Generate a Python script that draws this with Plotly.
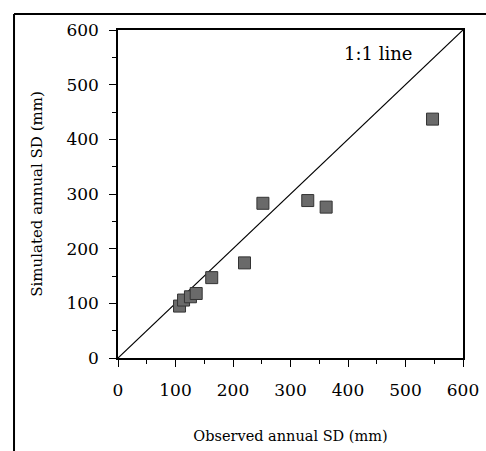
import plotly.graph_objects as go

observed = [107, 114, 126, 136, 163, 220, 252, 330, 362, 547]
simulated = [95, 106, 112, 118, 147, 174, 283, 288, 276, 437]
line_x = [0, 600]
line_y = [0, 600]
tick_vals = [0, 100, 200, 300, 400, 500, 600]
tick_text = ["0", "100", "200", "300", "400", "500", "600"]

FONT = "DejaVu Serif"

fig = go.Figure()
fig.add_trace(go.Scatter(x=line_x, y=line_y, mode="lines",
                         line=dict(color="black", width=1.2), showlegend=False))
fig.add_trace(go.Scatter(x=observed, y=simulated, mode="markers",
                         marker=dict(symbol="square", size=12, color="#6a6a6a",
                                     line=dict(color="#333333", width=1)),
                         showlegend=False))

axis_common = dict(range=[0, 600], tickvals=tick_vals, ticktext=tick_text,
                   showgrid=False, zeroline=False, showline=True, linecolor="black",
                   linewidth=1.5, mirror=True, ticks="outside", ticklen=7,
                   tickcolor="black", tickwidth=1.2, automargin=False,
                   tickfont=dict(family=FONT, size=17, color="black"),
                   minor=dict(dtick=50, ticks="outside", ticklen=4, tickcolor="black"))

fig.update_xaxes(**axis_common, ticklabelstandoff=9,
                 title=dict(text="Observed annual SD (mm)",
                            font=dict(family=FONT, size=14.5, color="black"), standoff=32))
fig.update_yaxes(**axis_common, ticklabelstandoff=7,
                 title=dict(text="Simulated annual SD (mm)",
                            font=dict(family=FONT, size=15, color="black"), standoff=20))

fig.add_annotation(x=452, y=557, text="1:1 line", showarrow=False,
                   font=dict(family=FONT, size=18, color="black"))

# outer frame lines (top and left)
fig.add_shape(type="line", xref="paper", yref="paper", x0=-0.3014, x1=1.07,
              y0=1.0488, y1=1.0488, line=dict(color="black", width=2))
fig.add_shape(type="line", xref="paper", yref="paper", x0=-0.3014, x1=-0.3014,
              y0=1.0488, y1=-0.30, line=dict(color="black", width=2))

fig.update_layout(width=486, height=451,
                  margin=dict(l=118, r=23, t=30, b=93),
                  plot_bgcolor="white", paper_bgcolor="white")

fig.write_html("out.html")
